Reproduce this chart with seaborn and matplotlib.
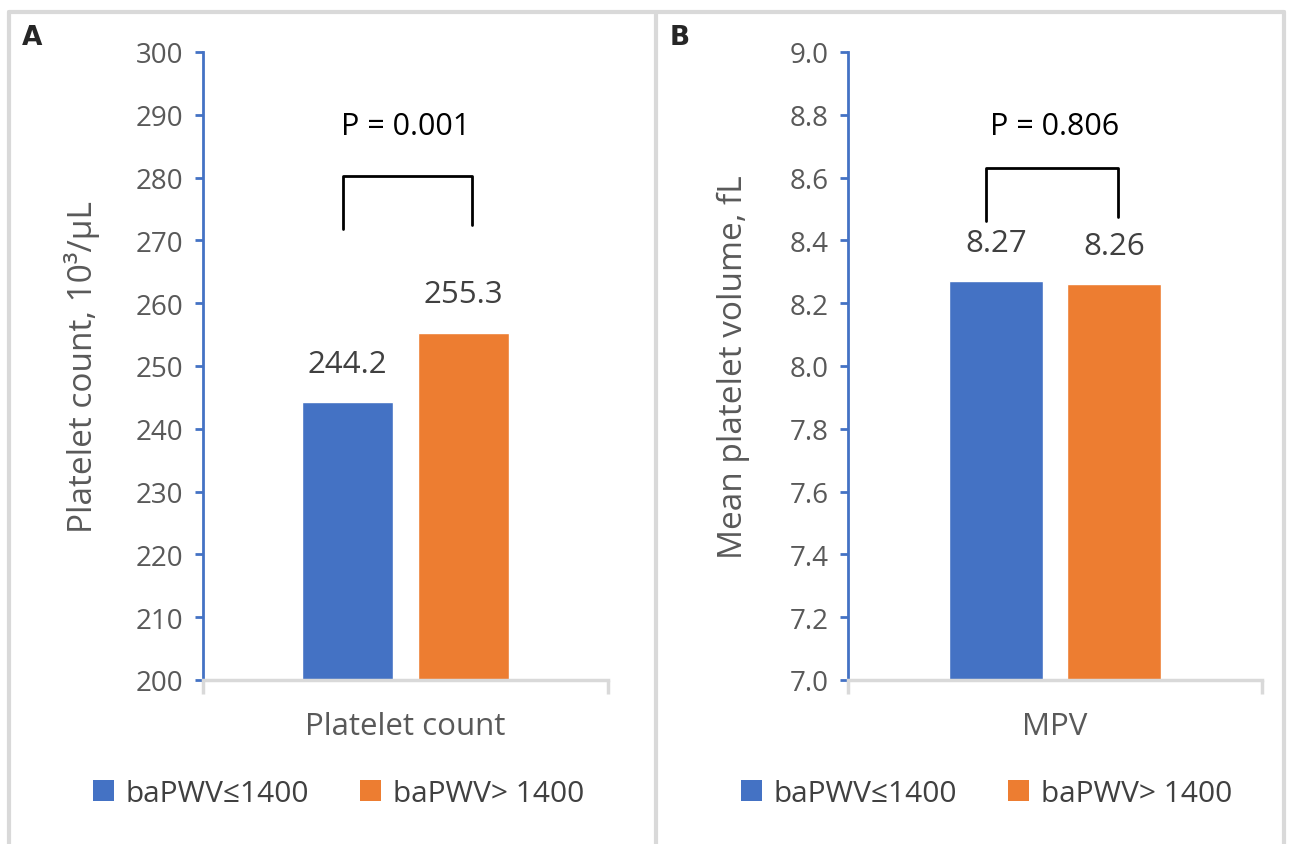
import numpy as np
import pandas as pd
import matplotlib.pyplot as plt
import seaborn as sns
from matplotlib.patches import Patch
from matplotlib.lines import Line2D

sns.set_theme(style='white')
plt.rcParams['font.family'] = ['Open Sans', 'DejaVu Sans']

# Data
groups = ['baPWV≤1400', 'baPWV> 1400']
colors = ['#4472C4', '#ED7D31']

plt_metric = 'Platelet count'
plt_values = [244.2, 255.3]
plt_labels = ['244.2', '255.3']
plt_p = 'P = 0.001'
plt_bracket = (280.2, 271.75, 272.4)   # top, left leg end, right leg end

mpv_metric = 'MPV'
mpv_values = [8.27, 8.26]
mpv_labels = ['8.27', '8.26']
mpv_p = 'P = 0.806'
mpv_bracket = (8.632, 8.461, 8.476)

W, H = 1294, 845
fig = plt.figure(figsize=(W / 100, H / 100), dpi=100)

# panel frames
frame_kw = dict(color='#D9D9D9', lw=3, transform=fig.transFigure, clip_on=False)
fig.add_artist(Line2D([9 / W, 1284 / W], [1 - 13 / H, 1 - 13 / H], **frame_kw))
for xp in [9, 656, 1284]:
    fig.add_artist(Line2D([xp / W, xp / W], [1 - 13 / H, 0], **frame_kw))


def panel(rect, metric, values, labels, ptext, ylim, yticks, fmt, ylabel,
          bracket, leg_off, p_y, ylabel_x, letter, letter_x):
    ax = fig.add_axes(rect)
    df = pd.DataFrame({'metric': [metric] * 2, 'group': groups, 'value': values})
    sns.barplot(data=df, x='metric', y='value', hue='group', palette=colors,
                width=0.57, gap=0.21, ax=ax, legend=False, saturation=1)
    ax.set_ylim(*ylim)
    ax.set_xlim(-0.5, 0.5)
    ax.set_yticks(yticks)
    ax.set_yticklabels([fmt.format(t) for t in yticks])

    for s in ['top', 'right']:
        ax.spines[s].set_visible(False)
    ax.spines['left'].set_color('#4472C4')
    ax.spines['left'].set_linewidth(2)
    ax.spines['bottom'].set_color('#D9D9D9')
    ax.spines['bottom'].set_linewidth(2.5)

    ax.tick_params(axis='y', which='major', left=True, length=6, width=2,
                   color='#4472C4', labelsize=20, labelcolor='#595959', pad=8)
    ax.set_xticks([0])
    ax.set_xticklabels([metric])
    ax.set_xticks([-0.5, 0.5], minor=True)
    ax.tick_params(axis='x', which='major', length=0, labelsize=22.5,
                   labelcolor='#595959', pad=22)
    ax.tick_params(axis='x', which='minor', bottom=True, length=10, width=2.5,
                   color='#D9D9D9')
    ax.set_xlabel('')
    ax.set_ylabel(ylabel, fontsize=24, color='#595959', va='center')
    ax.yaxis.set_label_coords(ylabel_x, 0.5)

    # value labels
    for cont, lab in zip(ax.containers, labels):
        ax.bar_label(cont, labels=[lab], padding=17, fontsize=22.5,
                     color='#404040')

    # bracket
    centers = [c.patches[0].get_x() + c.patches[0].get_width() / 2 for c in ax.containers]
    top, lb, rb = bracket
    xl, xr = centers[0] + leg_off[0], centers[1] + leg_off[1]
    ax.plot([xl, xl, xr, xr], [lb, top, top, rb],
            color='black', lw=2, clip_on=False)
    ax.text(0, p_y, ptext, ha='center', va='center', fontsize=22, color='black')

    # legend
    handles = [Patch(facecolor=c, edgecolor='none') for c in colors]
    ax.legend(handles, groups, loc='center', bbox_to_anchor=(0.335, -0.18), ncol=2,
              frameon=False, fontsize=21.5, handlelength=0.7, handleheight=0.7,
              handletextpad=0.4, columnspacing=1.7, labelcolor='#404040')

    fig.text(letter_x / W, 1 - 38 / H, letter, fontsize=19, fontweight='bold',
             ha='left', va='center', family='DejaVu Sans')
    return ax


bottom = 1 - 681 / H
height = 628 / H
panel([203 / W, bottom, 405 / W, height], plt_metric, plt_values, plt_labels, plt_p,
      (200, 300), np.arange(200, 301, 10), '{:.0f}', 'Platelet count, 10³/μL',
      plt_bracket, (-0.011, 0.022), 288.2, (82 - 203) / 405, 'A', 22)
panel([848 / W, bottom, 414 / W, height], mpv_metric, mpv_values, mpv_labels, mpv_p,
      (7.0, 9.0), np.round(np.arange(7.0, 9.01, 0.2), 1), '{:.1f}',
      'Mean platelet volume, fL', mpv_bracket, (-0.024, 0.01), 8.765,
      (733 - 848) / 414, 'B', 670)

fig.savefig('out.png', dpi=100)
